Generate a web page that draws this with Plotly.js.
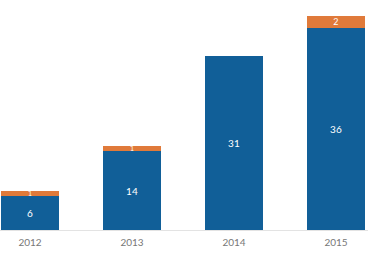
<!DOCTYPE html>
<html><head><meta charset="utf-8">
<script src="https://cdn.plot.ly/plotly-3.0.1.min.js"></script>
<style>html,body{margin:0;padding:0;background:#fff}#chart{width:368px;height:260px}</style>
</head><body><div id="chart"></div>
<script>
var years = ['2012', '2013', '2014', '2015'];
var blueValues = [6, 14, 31, 36];
var orangeValues = [1, 1, 0, 2];
var blueLabels = blueValues.map(String);
var orangeLabels = orangeValues.map(function(v){ return v ? String(v) : ''; });

var data = [
  {type:'bar', x: years, y: blueValues, text: blueLabels, textposition:'inside', textangle:0,
   insidetextanchor:'middle', constraintext:'none',
   textfont:{color:'#ffffff', size:10, family:'Lato, sans-serif'},
   marker:{color:'#115f98', line:{width:0}}, hoverinfo:'none'},
  {type:'bar', x: years, y: orangeValues, text: orangeLabels, textposition:'inside', textangle:0,
   insidetextanchor:'middle', constraintext:'none',
   textfont:{color:'#ffffff', size:[7, 7, 9, 9], family:'Lato, sans-serif'},
   marker:{color:'#e07a3a', line:{width:0}}, hoverinfo:'none'}
];
var layout = {
  width:368, height:260, barmode:'stack', bargap:0.43, showlegend:false,
  margin:{l:0, r:0, t:5, b:30},
  paper_bgcolor:'#ffffff', plot_bgcolor:'#ffffff',
  xaxis:{type:'category', range:[-0.294, 3.314], showline:true, linecolor:'#e3e3e3', linewidth:1,
         ticks:'', ticklabelstandoff:3, showgrid:false, tickfont:{color:'#777777', size:10, family:'Lato, sans-serif'}},
  yaxis:{range:[0, 40], visible:false, showgrid:false, zeroline:false},
  font:{family:'Lato, sans-serif'}
};
Plotly.newPlot('chart', data, layout, {staticPlot:true, displayModeBar:false});
</script></body></html>
